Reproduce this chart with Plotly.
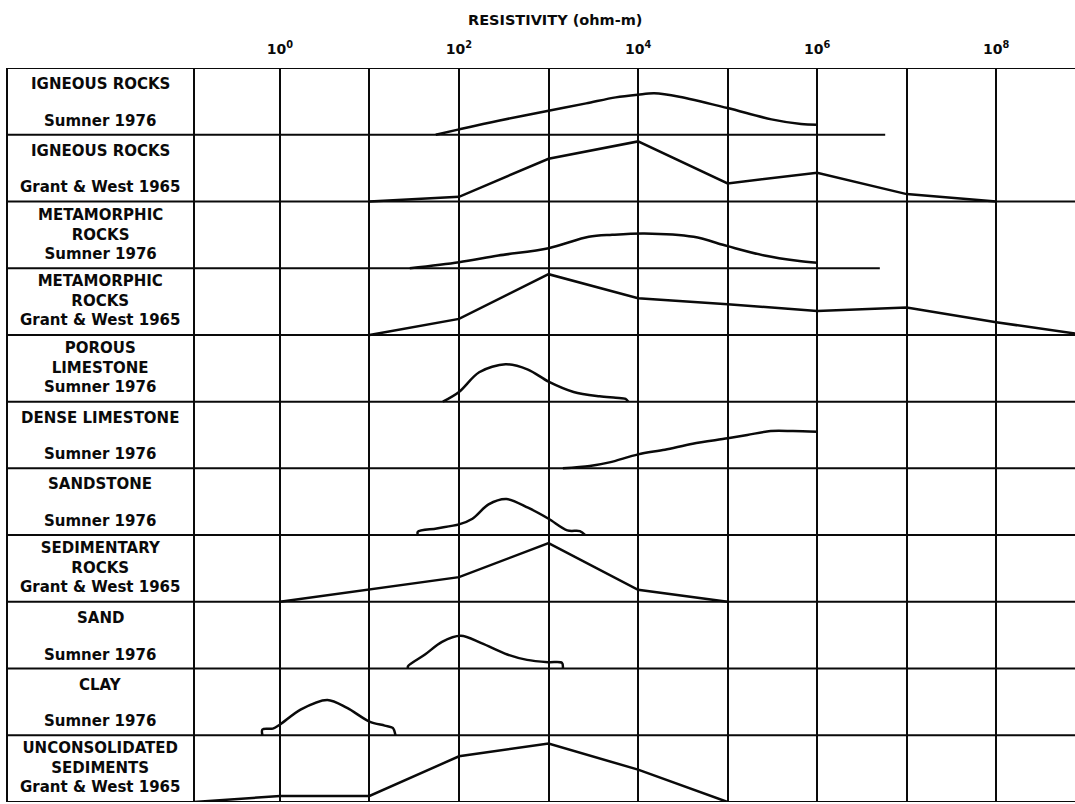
import plotly.graph_objects as go

# ---------------- data ----------------
row_labels = [
    ["IGNEOUS ROCKS", "Sumner 1976"],
    ["IGNEOUS ROCKS", "Grant & West 1965"],
    ["METAMORPHIC", "ROCKS", "Sumner 1976"],
    ["METAMORPHIC", "ROCKS", "Grant & West 1965"],
    ["POROUS", "LIMESTONE", "Sumner 1976"],
    ["DENSE LIMESTONE", "Sumner 1976"],
    ["SANDSTONE", "Sumner 1976"],
    ["SEDIMENTARY", "ROCKS", "Grant & West 1965"],
    ["SAND", "Sumner 1976"],
    ["CLAY", "Sumner 1976"],
    ["UNCONSOLIDATED", "SEDIMENTS", "Grant & West 1965"],
]

# log10(resistivity, ohm-m) and relative height within the row (0..1)
igneous_sumner_exp = [1.74, 2.0, 2.44, 3.0, 3.42, 3.75, 4.0, 4.18, 4.46, 5.0, 5.49, 5.82, 6.0]
igneous_sumner_h = [0.0, 0.08, 0.21, 0.36, 0.47, 0.56, 0.60, 0.62, 0.57, 0.40, 0.23, 0.16, 0.15]

igneous_grant_exp = [1, 2, 3, 4, 5, 6, 7, 8]
igneous_grant_h = [0.0, 0.07, 0.64, 0.90, 0.27, 0.43, 0.11, 0.0]

metamorphic_sumner_exp = [1.45, 2.0, 2.44, 3.0, 3.45, 3.71, 4.07, 4.62, 5.0, 5.41, 5.78, 6.0]
metamorphic_sumner_h = [0.0, 0.09, 0.19, 0.30, 0.47, 0.50, 0.52, 0.47, 0.33, 0.19, 0.11, 0.08]

metamorphic_grant_exp = [1, 2, 3, 4, 5, 6, 7, 8, 8.88]
metamorphic_grant_h = [0.0, 0.24, 0.91, 0.55, 0.46, 0.36, 0.41, 0.19, 0.02]

porous_limestone_exp = [1.82, 2.0, 2.225, 2.52, 2.77, 3.0, 3.28, 3.57, 3.75, 3.86, 3.89]
porous_limestone_h = [0.0, 0.145, 0.44, 0.56, 0.48, 0.30, 0.145, 0.08, 0.057, 0.04, 0.0]

dense_limestone_exp = [3.16, 3.46, 3.68, 4.0, 4.3, 4.61, 5.0, 5.22, 5.48, 5.73, 6.0]
dense_limestone_h = [0.0, 0.036, 0.09, 0.21, 0.28, 0.37, 0.45, 0.50, 0.56, 0.56, 0.55]

sandstone_exp = [1.54, 1.54, 1.75, 2.0, 2.15, 2.33, 2.53, 2.77, 3.0, 3.21, 3.35, 3.41]
sandstone_h = [0.0, 0.05, 0.10, 0.16, 0.245, 0.46, 0.54, 0.41, 0.245, 0.07, 0.06, 0.0]

sedimentary_grant_exp = [0, 2, 3, 4, 5]
sedimentary_grant_h = [0.0, 0.37, 0.88, 0.18, 0.0]

sand_exp = [1.43, 1.43, 1.62, 1.81, 2.02, 2.25, 2.54, 2.76, 3.0, 3.15, 3.16]
sand_h = [0.0, 0.035, 0.21, 0.40, 0.49, 0.38, 0.21, 0.13, 0.095, 0.086, 0.0]

clay_exp = [-0.196, -0.196, -0.08, 0.0, 0.23, 0.53, 0.75, 1.0, 1.17, 1.26, 1.29]
clay_h = [0.0, 0.087, 0.10, 0.16, 0.385, 0.53, 0.41, 0.205, 0.145, 0.11, 0.0]

unconsolidated_grant_exp = [-0.96, 0, 1, 2, 3, 4, 5]
unconsolidated_grant_h = [0.0, 0.09, 0.09, 0.685, 0.875, 0.485, 0.0]

series = [
    (igneous_sumner_exp, igneous_sumner_h, True),
    (igneous_grant_exp, igneous_grant_h, False),
    (metamorphic_sumner_exp, metamorphic_sumner_h, True),
    (metamorphic_grant_exp, metamorphic_grant_h, False),
    (porous_limestone_exp, porous_limestone_h, True),
    (dense_limestone_exp, dense_limestone_h, True),
    (sandstone_exp, sandstone_h, True),
    (sedimentary_grant_exp, sedimentary_grant_h, False),
    (sand_exp, sand_h, True),
    (clay_exp, clay_h, True),
    (unconsolidated_grant_exp, unconsolidated_grant_h, False),
]

# Sumner ranges drawn as baselines that end before the right edge (row index -> log10 end)
baseline_end_exp = {0: 6.76, 2: 6.70}

labelled_tick_exponents = [0, 2, 4, 6, 8]
unlabelled_tick_exponents = [1, 3, 5, 7]
x_range_exp = [-0.96, 8.88]

# ---------------- figure ----------------
W, H = 1075, 804
n_rows = len(row_labels)
INK = "#0a0a0a"
FONT = "DejaVu Sans"
LABEL_SIZE = 15

fig = go.Figure()

for i, (ex, hh, smooth) in enumerate(series):
    base = n_rows - 1 - i
    fig.add_trace(go.Scatter(
        x=[10 ** e for e in ex],
        y=[base + h for h in hh],
        mode="lines",
        line=dict(color=INK, width=2.5,
                  shape="spline" if smooth else "linear",
                  smoothing=0.9 if smooth else None),
        hoverinfo="skip",
        showlegend=False,
    ))

label_left = 7 / W
label_right = 194 / W

shapes = []
lw = 2
# frame: top, bottom, left, label-column right
for yv in (0, n_rows):
    shapes.append(dict(type="line", xref="paper", yref="y", x0=label_left, x1=1,
                       y0=yv, y1=yv, line=dict(color=INK, width=lw)))
for xv in (label_left, label_right):
    shapes.append(dict(type="line", xref="paper", yref="y", x0=xv, x1=xv,
                       y0=0, y1=n_rows, line=dict(color=INK, width=lw)))
# row dividers
for i in range(n_rows - 1):
    yv = n_rows - 1 - i
    if i in baseline_end_exp:
        shapes.append(dict(type="line", xref="paper", yref="y", x0=label_left, x1=label_right,
                           y0=yv, y1=yv, line=dict(color=INK, width=lw)))
        shapes.append(dict(type="line", xref="x", yref="y", x0=10 ** x_range_exp[0],
                           x1=10 ** baseline_end_exp[i], y0=yv, y1=yv,
                           line=dict(color=INK, width=lw)))
    else:
        shapes.append(dict(type="line", xref="paper", yref="y", x0=label_left, x1=1,
                           y0=yv, y1=yv, line=dict(color=INK, width=lw)))

annotations = []
for i, lines in enumerate(row_labels):
    top = n_rows - i
    if len(lines) == 2:
        for txt, off in zip(lines, [0.24, 0.79]):
            annotations.append(dict(
                text="<b>" + txt + "</b>", x=100 / W, xref="paper", y=top - off, yref="y",
                showarrow=False, xanchor="center", yanchor="middle",
                font=dict(family=FONT, size=LABEL_SIZE, color=INK)))
    else:
        annotations.append(dict(
            text="<br>".join("<b>" + t + "</b>" for t in lines),
            x=100 / W, xref="paper", y=top - 0.49, yref="y",
            showarrow=False, xanchor="center", yanchor="middle", align="center",
            font=dict(family=FONT, size=LABEL_SIZE, color=INK)))

plot_top, plot_bot = 68, 802
annotations.append(dict(
    text="<b>RESISTIVITY (ohm-m)</b>", x=555 / W, xref="paper",
    y=(plot_bot - 20) / (plot_bot - plot_top), yref="paper",
    showarrow=False, xanchor="center", yanchor="middle",
    font=dict(family=FONT, size=14.5, color=INK)))

fig.update_layout(
    width=W, height=H,
    margin=dict(l=0, r=0, t=plot_top, b=H - plot_bot, pad=0),
    paper_bgcolor="white", plot_bgcolor="white",
    shapes=shapes, annotations=annotations,
    xaxis=dict(
        type="log", range=x_range_exp, domain=[label_right, 1], side="top",
        tickvals=[10 ** k for k in labelled_tick_exponents],
        ticktext=["<b>10<sup>%d</sup></b>" % k for k in labelled_tick_exponents],
        tickfont=dict(family=FONT, size=14, color=INK),
        ticklabelstandoff=10,
        showgrid=True, gridcolor=INK, gridwidth=2,
        minor=dict(tickvals=[10 ** k for k in unlabelled_tick_exponents],
                   showgrid=True, gridcolor=INK, gridwidth=2, ticks=""),
        ticks="", showline=False, zeroline=False, fixedrange=True,
    ),
    yaxis=dict(range=[0, n_rows], showgrid=False, showticklabels=False, ticks="",
               zeroline=False, showline=False, fixedrange=True),
)

fig.write_html("out.html")
